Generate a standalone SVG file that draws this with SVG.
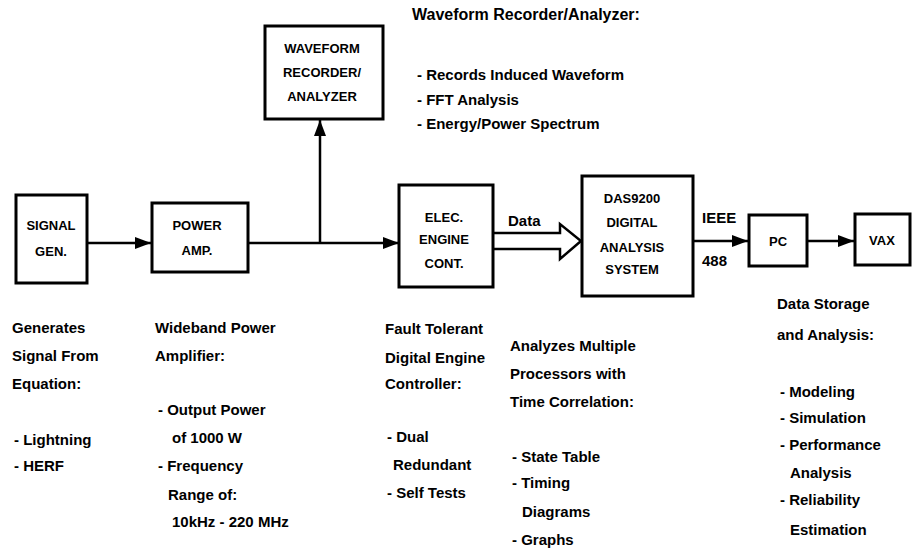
<svg xmlns="http://www.w3.org/2000/svg" width="916" height="548" viewBox="0 0 916 548">
<style>
.box{fill:#fff;stroke:#000;stroke-width:3}
.bt{font-family:"Liberation Sans",Arial,sans-serif;font-weight:bold;font-size:13px;text-anchor:middle;fill:#000}
.t{font-family:"Liberation Sans",Arial,sans-serif;font-weight:bold;font-size:15px;fill:#000}
.ln{fill:none;stroke:#000;stroke-width:2.5}
</style>
<defs>
<marker id="ah" markerUnits="userSpaceOnUse" markerWidth="18" markerHeight="14" refX="16" refY="7" orient="auto">
<path d="M0,1 L16,7 L0,13 Z" fill="#000"/>
</marker>
</defs>
<rect width="916" height="548" fill="#fff"/>
<g id="connectors">
<line class="ln" x1="87" y1="243" x2="151" y2="243" marker-end="url(#ah)"/>
<line class="ln" x1="248" y1="243" x2="399" y2="243" marker-end="url(#ah)"/>
<line class="ln" x1="320" y1="243" x2="320" y2="120" marker-end="url(#ah)"/>
<path class="ln" d="M493,233 H560 V224 L581,241 L560,259 V249 H493" stroke-linejoin="miter"/>
<line class="ln" x1="693" y1="241" x2="748" y2="241" marker-end="url(#ah)"/>
<line class="ln" x1="807" y1="241" x2="854" y2="241" marker-end="url(#ah)"/>
<text class="t" x="508" y="226">Data</text>
<text class="t" x="702" y="223">IEEE</text>
<text class="t" x="702" y="266">488</text>
</g>
<g id="signal-gen">
<rect class="box" x="16" y="195" width="71" height="88"/>
<text class="bt" x="51" y="230">SIGNAL</text>
<text class="bt" x="51" y="256">GEN.</text>
</g>
<g id="power-amp">
<rect class="box" x="152" y="203" width="96" height="69"/>
<text class="bt" x="197" y="230">POWER</text>
<text class="bt" x="197" y="255">AMP.</text>
</g>
<g id="waveform-recorder">
<rect class="box" x="265" y="26" width="118" height="93"/>
<text class="bt" x="322" y="53">WAVEFORM</text>
<text class="bt" x="322" y="77">RECORDER/</text>
<text class="bt" x="322" y="101">ANALYZER</text>
</g>
<g id="elec-engine-cont">
<rect class="box" x="399" y="185" width="94" height="102"/>
<text class="bt" x="444" y="222">ELEC.</text>
<text class="bt" x="444" y="244">ENGINE</text>
<text class="bt" x="444" y="268">CONT.</text>
</g>
<g id="das9200">
<rect class="box" x="582" y="176" width="111" height="120"/>
<text class="bt" x="632" y="203">DAS9200</text>
<text class="bt" x="632" y="227">DIGITAL</text>
<text class="bt" x="632" y="252">ANALYSIS</text>
<text class="bt" x="632" y="274">SYSTEM</text>
</g>
<g id="pc">
<rect class="box" x="749" y="215" width="58" height="51"/>
<text class="bt" x="778" y="246">PC</text>
</g>
<g id="vax">
<rect class="box" x="855" y="214" width="55" height="51"/>
<text class="bt" x="882" y="245">VAX</text>
</g>
<g id="notes">
<text class="t" x="412" y="20" style="font-size:16px">Waveform Recorder/Analyzer:</text>
<text class="t" x="417" y="80">- Records Induced Waveform</text>
<text class="t" x="417" y="105">- FFT Analysis</text>
<text class="t" x="417" y="129">- Energy/Power Spectrum</text>

<text class="t" x="12" y="333">Generates</text>
<text class="t" x="12" y="361">Signal From</text>
<text class="t" x="12" y="389">Equation:</text>
<text class="t" x="14" y="445">- Lightning</text>
<text class="t" x="14" y="471">- HERF</text>

<text class="t" x="155" y="333">Wideband Power</text>
<text class="t" x="155" y="361">Amplifier:</text>
<text class="t" x="158" y="415">- Output Power</text>
<text class="t" x="172" y="443">of 1000 W</text>
<text class="t" x="158" y="471">- Frequency</text>
<text class="t" x="168" y="500">Range of:</text>
<text class="t" x="172" y="527">10kHz - 220 MHz</text>

<text class="t" x="385" y="334">Fault Tolerant</text>
<text class="t" x="385" y="363">Digital Engine</text>
<text class="t" x="385" y="389">Controller:</text>
<text class="t" x="387" y="442">- Dual</text>
<text class="t" x="393" y="470">Redundant</text>
<text class="t" x="387" y="498">- Self Tests</text>

<text class="t" x="510" y="351">Analyzes Multiple</text>
<text class="t" x="510" y="379">Processors with</text>
<text class="t" x="510" y="407">Time Correlation:</text>
<text class="t" x="512" y="462">- State Table</text>
<text class="t" x="512" y="488">- Timing</text>
<text class="t" x="522" y="517">Diagrams</text>
<text class="t" x="512" y="545">- Graphs</text>

<text class="t" x="777" y="309">Data Storage</text>
<text class="t" x="777" y="340">and Analysis:</text>
<text class="t" x="780" y="397">- Modeling</text>
<text class="t" x="780" y="423">- Simulation</text>
<text class="t" x="780" y="450">- Performance</text>
<text class="t" x="790" y="478">Analysis</text>
<text class="t" x="780" y="505">- Reliability</text>
<text class="t" x="790" y="535">Estimation</text>
</g>
</svg>
